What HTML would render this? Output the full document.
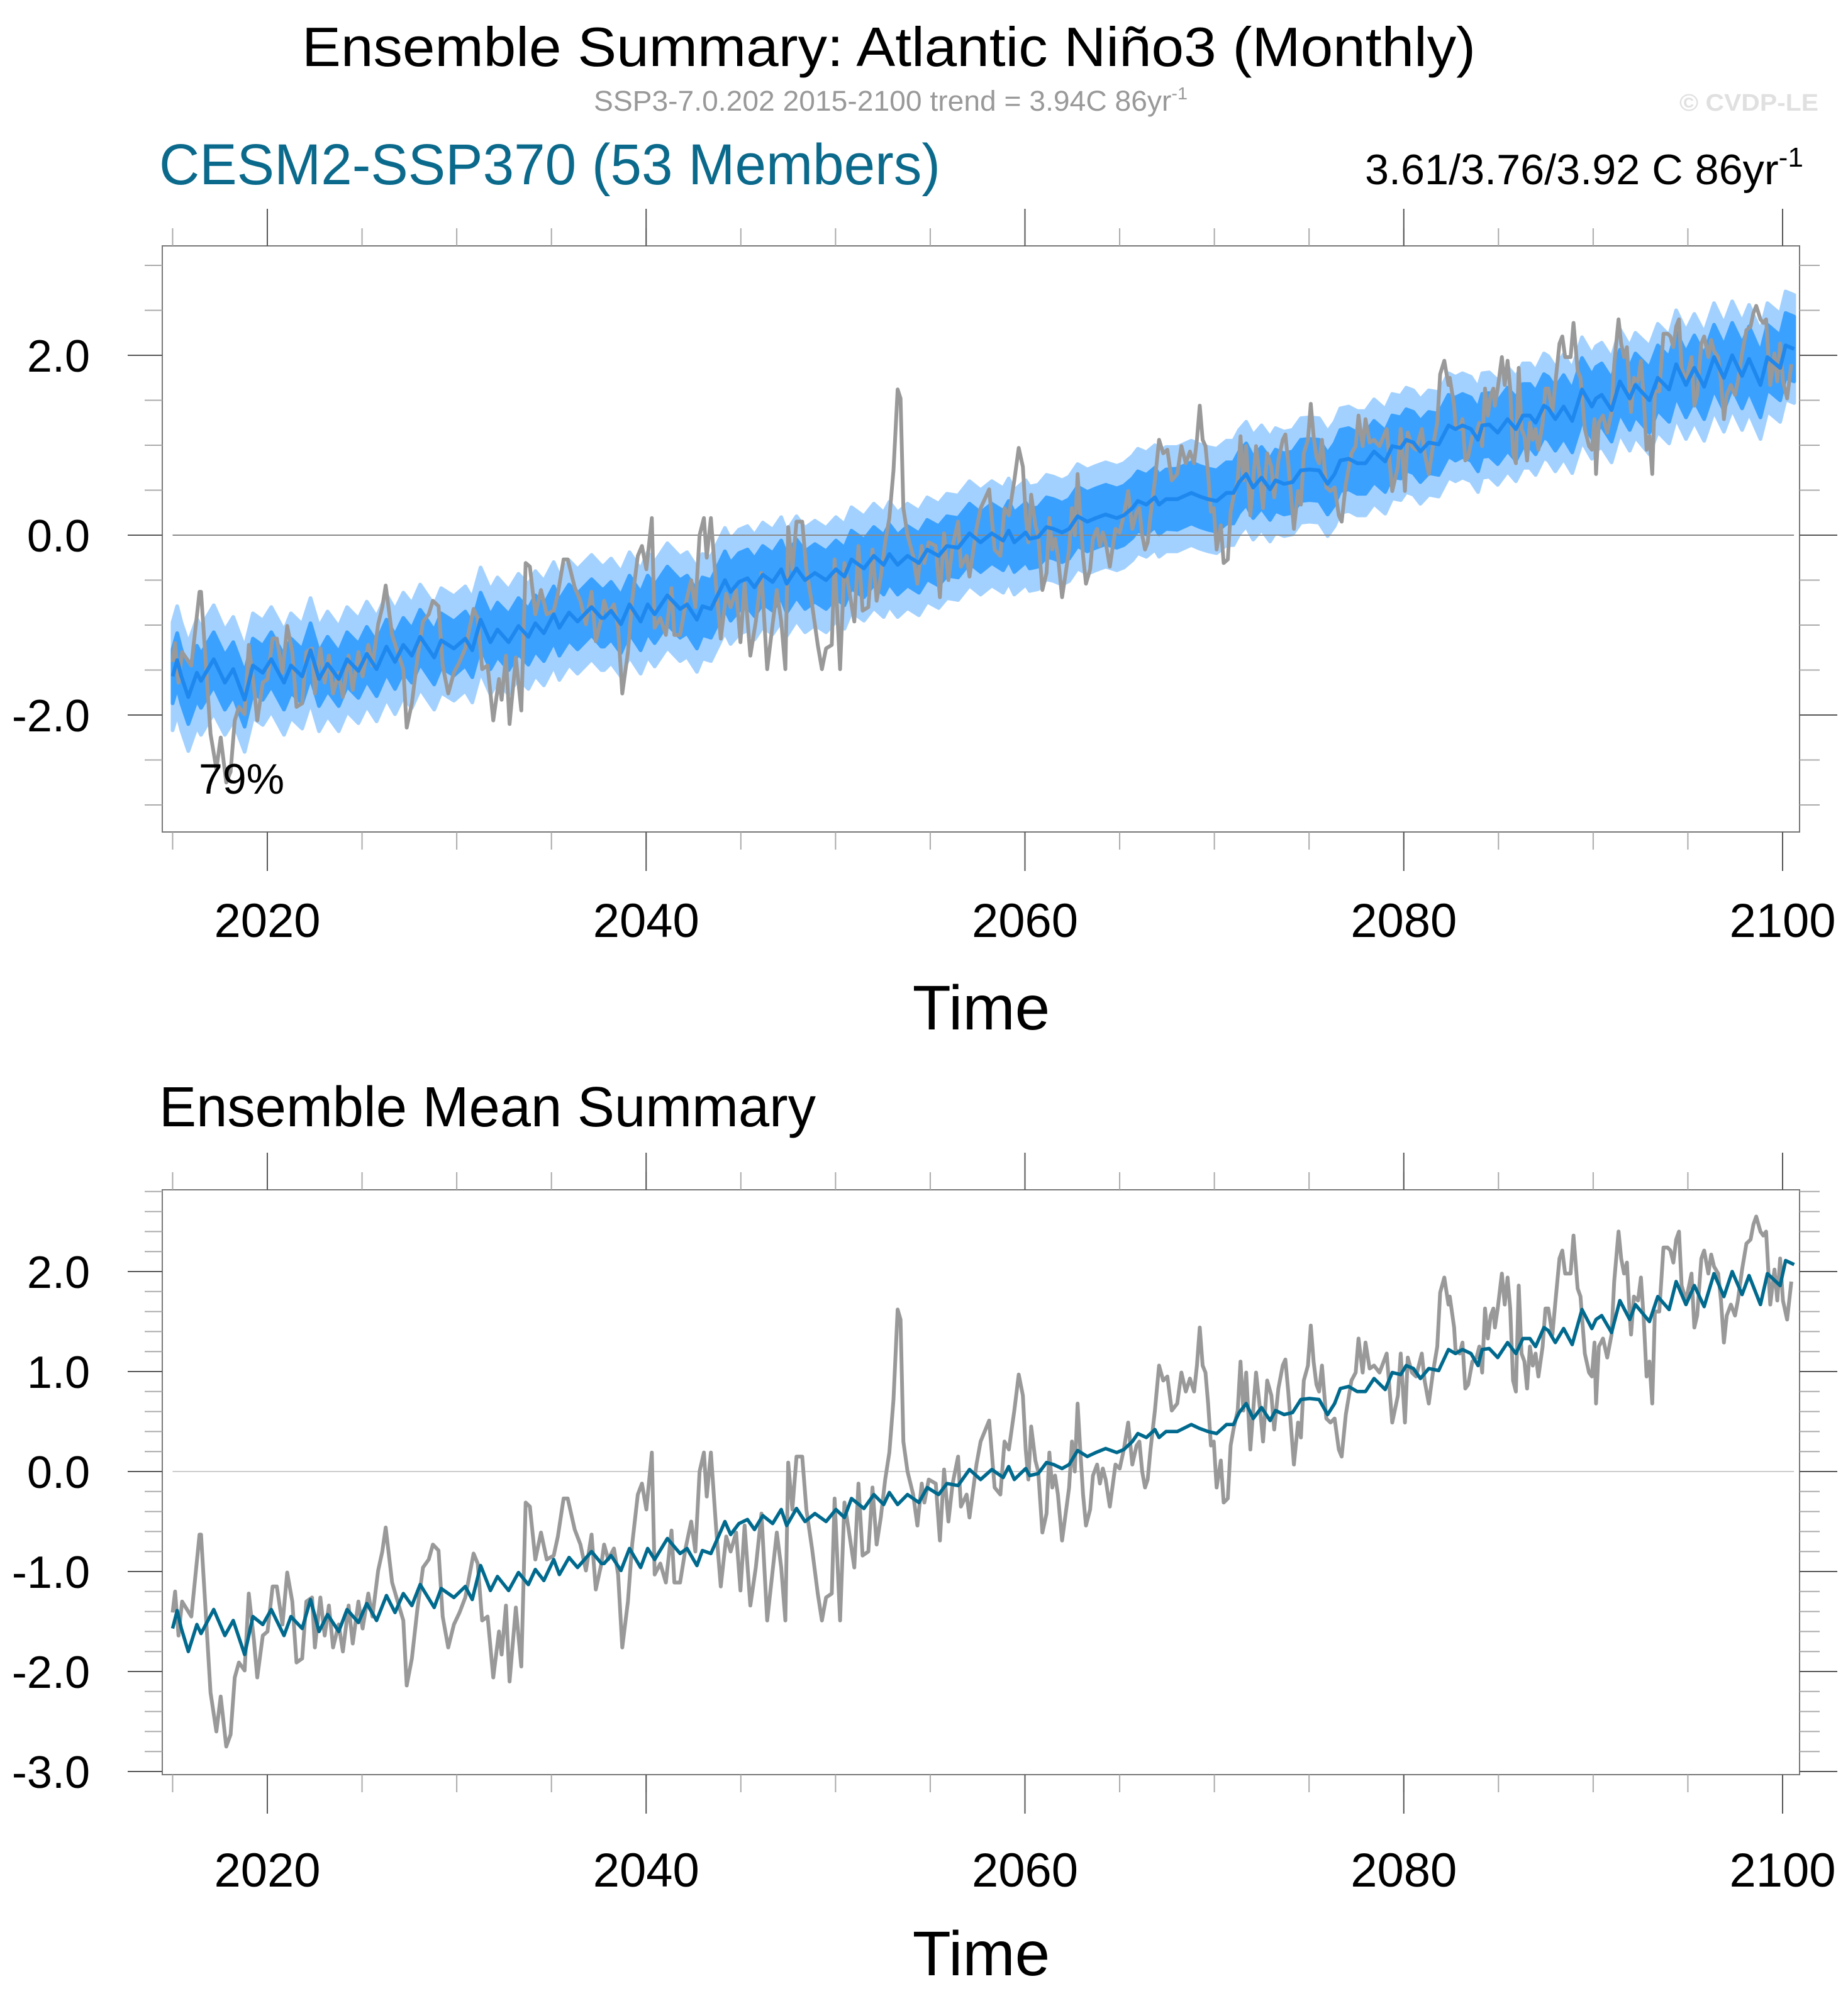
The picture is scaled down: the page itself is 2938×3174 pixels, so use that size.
<!DOCTYPE html>
<html><head><meta charset="utf-8"><title>Ensemble Summary: Atlantic Niño3 (Monthly)</title>
<style>html,body{margin:0;padding:0;background:#fff}svg{display:block}text{font-family:"Liberation Sans",Arial,sans-serif}</style>
</head><body>
<svg id="fig" width="2938" height="3174" viewBox="0 0 2938 3174" xmlns="http://www.w3.org/2000/svg">
<rect x="0" y="0" width="2938" height="3174" fill="#fff"/>
<text x="480" y="105" font-size="88" textLength="1866" lengthAdjust="spacingAndGlyphs">Ensemble Summary: Atlantic Niño3 (Monthly)</text>
<text x="944" y="176" font-size="45" fill="#999" textLength="944" lengthAdjust="spacingAndGlyphs">SSP3-7.0.202 2015-2100 trend = 3.94C 86yr<tspan dy="-18" font-size="28">-1</tspan></text>
<text x="2670" y="176" font-size="38" font-weight="bold" fill="#e0e0e0" textLength="221" lengthAdjust="spacingAndGlyphs">© CVDP-LE</text>
<text x="253" y="293" font-size="92" fill="#0b6a8c" textLength="1242" lengthAdjust="spacingAndGlyphs">CESM2-SSP370 (53 Members)</text>
<text x="2170" y="293" font-size="68" textLength="697" lengthAdjust="spacingAndGlyphs">3.61/3.76/3.92 C 86yr<tspan dy="-28" font-size="44">-1</tspan></text>
<text x="253" y="1791" font-size="90" textLength="1044" lengthAdjust="spacingAndGlyphs">Ensemble Mean Summary</text>
<g id="top"></g>
<g id="bot"></g>
</svg>
<script>
// ---- data ----
const obsTime = [2015.00,2015.13,2015.31,2015.50,2015.99,2016.42,2016.50,2017.00,2017.31,2017.54,2017.83,2018.06,2018.28,2018.50,2018.80,2019.02,2019.29,2019.47,2019.76,2020.01,2020.28,2020.50,2020.80,2021.05,2021.32,2021.54,2021.84,2022.06,2022.36,2022.51,2022.80,2023.03,2023.25,2023.47,2023.77,2023.99,2024.29,2024.51,2024.81,2025.03,2025.33,2025.55,2025.85,2026.07,2026.25,2026.59,2026.88,2027.18,2027.36,2027.63,2027.92,2028.22,2028.52,2028.74,2029.04,2029.26,2029.55,2029.85,2030.15,2030.45,2030.89,2031.11,2031.34,2031.63,2031.93,2032.23,2032.37,2032.60,2032.79,2033.12,2033.41,2033.64,2033.86,2034.15,2034.45,2034.75,2035.12,2035.34,2035.64,2035.86,2036.23,2036.53,2036.82,2037.12,2037.34,2037.64,
2037.78,2038.00,2038.30,2038.52,2038.74,2039.04,2039.26,2039.56,2039.78,2040.01,2040.30,2040.45,2040.75,2041.04,2041.34,2041.49,2041.79,2042.08,2042.38,2042.60,2042.82,2043.05,2043.20,2043.42,2043.71,2043.94,2044.23,2044.46,2044.75,2044.98,2045.20,2045.50,2045.79,2046.09,2046.39,2046.61,2046.90,2047.13,2047.35,2047.50,2047.72,2047.94,2048.24,2048.46,2048.76,2049.06,2049.28,2049.50,2049.80,2049.95,2050.24,2050.47,2050.69,2050.99,2051.21,2051.43,2051.73,2051.95,2052.17,2052.39,2052.62,2052.84,2053.06,2053.28,2053.43,2053.58,2053.80,2054.10,2054.32,2054.55,2054.69,2054.92,2055.29,2055.51,2055.73,2055.96,2056.18,2056.47,2056.62,2056.92,2057.07,2057.44,2057.66,2058.11,2058.40,2058.70,2058.92,2059.15,2059.44,2059.67,2059.89,2060.04,
2060.18,2060.33,2060.55,2060.70,2060.92,2061.14,2061.29,2061.44,2061.59,2061.74,2061.96,2062.18,2062.33,2062.48,2062.63,2062.78,2062.92,2063.07,2063.22,2063.44,2063.59,2063.81,2063.96,2064.11,2064.26,2064.48,2064.78,2065.00,2065.22,2065.45,2065.67,2065.89,2066.04,2066.19,2066.34,2066.48,2066.63,2066.86,2067.08,2067.30,2067.52,2067.75,2068.04,2068.26,2068.49,2068.71,2068.93,2069.08,2069.23,2069.38,2069.53,2069.67,2069.82,2069.97,2070.12,2070.34,2070.49,2070.71,2070.86,2071.01,2071.23,2071.38,2071.53,2071.68,2071.90,2072.20,2072.42,2072.57,2072.79,2073.01,2073.16,2073.38,2073.61,2073.75,2073.90,2074.20,2074.42,2074.57,2074.72,2074.94,2075.09,2075.24,2075.39,2075.53,2075.68,2075.91,2076.13,2076.35,2076.57,2076.72,2076.94,2077.24,2077.46,2077.61,2077.83,2077.98,2078.20,2078.43,2078.72,2079.10,2079.39,2079.69,2079.84,2080.06,2080.21,2080.43,2080.65,2080.95,2081.10,2081.32,2081.54,2081.77,2081.92,2082.14,2082.36,
2082.43,2082.66,2082.73,2082.95,2083.10,2083.25,2083.40,2083.62,2083.84,2083.99,2084.14,2084.29,2084.44,2084.59,2084.73,2084.81,2084.96,2085.18,2085.33,2085.48,2085.62,2085.77,2085.92,2086.07,2086.22,2086.37,2086.51,2086.66,2086.81,2086.96,2087.11,2087.33,2087.48,2087.63,2087.85,2088.00,2088.22,2088.37,2088.52,2088.67,2088.81,2088.96,2089.18,2089.33,2089.56,2089.78,2089.93,2090.07,2090.15,2090.30,2090.52,2090.74,2090.97,2091.11,2091.34,2091.48,2091.63,2091.78,2091.93,2092.00,2092.15,2092.37,2092.52,2092.67,2092.82,2092.97,2093.12,2093.26,2093.49,2093.71,2093.93,2094.08,2094.23,2094.38,2094.53,2094.67,2094.90,2095.19,2095.34,2095.49,2095.71,2095.86,2096.08,2096.23,2096.38,2096.60,2096.75,2096.90,2097.05,2097.27,2097.49,2097.64,2097.86,2098.09,2098.31,2098.46,2098.61,2098.83,2098.98,2099.13,2099.35,2099.57,2099.72,2099.87,2100.02,2100.24,2100.46];
const obsValue = [-1.41,-1.20,-1.64,-1.30,-1.45,-0.63,-0.63,-2.21,-2.60,-2.25,-2.75,-2.63,-2.06,-1.91,-1.99,-1.22,-1.68,-2.06,-1.64,-1.60,-1.15,-1.15,-1.53,-1.01,-1.30,-1.91,-1.87,-1.30,-1.26,-1.76,-1.26,-1.64,-1.34,-1.76,-1.53,-1.80,-1.34,-1.72,-1.30,-1.57,-1.22,-1.45,-0.99,-0.80,-0.56,-1.11,-1.30,-1.49,-2.14,-1.87,-1.38,-0.96,-0.88,-0.73,-0.79,-1.45,-1.76,-1.53,-1.41,-1.26,-0.82,-0.92,-1.49,-1.45,-2.06,-1.60,-1.83,-1.34,-2.10,-1.36,-1.95,-0.31,-0.35,-0.88,-0.61,-0.88,-0.84,-0.65,-0.27,-0.27,-0.58,-0.73,-0.99,-0.63,-1.18,-0.92,
-0.73,-0.88,-0.77,-1.03,-1.76,-1.30,-0.73,-0.23,-0.12,-0.38,0.19,-1.03,-0.92,-1.11,-0.59,-1.11,-1.11,-0.77,-0.50,-0.80,0.00,0.19,-0.25,0.19,-0.61,-1.15,-0.65,-0.80,-0.61,-1.19,-0.54,-1.34,-0.96,-0.42,-1.49,-1.11,-0.61,-0.96,-1.49,0.09,-0.38,0.15,0.15,-0.38,-0.77,-1.22,-1.49,-1.26,-1.22,-0.27,-1.49,-0.31,-0.58,-0.96,-0.12,-0.84,-0.80,-0.16,-0.73,-0.46,-0.08,0.19,0.72,1.62,1.52,0.30,0.00,-0.23,-0.54,-0.12,-0.31,-0.08,-0.12,-0.69,0.02,-0.50,-0.12,0.15,-0.35,-0.23,-0.46,0.07,0.30,0.51,-0.16,-0.23,0.30,0.22,0.61,0.97,0.76,0.22,
-0.08,0.45,0.11,0.00,-0.61,-0.42,0.19,-0.16,-0.04,-0.23,-0.69,-0.38,-0.16,0.30,0.00,0.68,0.22,-0.23,-0.54,-0.38,-0.04,0.07,-0.12,0.03,-0.08,-0.35,0.07,0.03,0.22,0.49,0.07,0.26,0.30,0.00,-0.16,-0.08,0.22,0.61,1.06,0.91,0.95,0.61,0.68,0.99,0.80,0.93,0.80,1.06,1.44,1.06,0.99,0.68,0.26,0.30,-0.16,0.11,-0.31,-0.27,0.26,0.42,0.61,1.10,0.61,0.99,0.22,0.99,0.61,0.30,0.91,0.76,0.42,0.83,1.06,1.12,0.80,0.07,0.49,0.34,0.91,1.06,1.46,1.10,0.87,0.80,1.06,0.53,0.49,0.53,0.22,0.15,0.57,0.91,0.99,1.33,0.99,1.29,1.03,1.06,0.99,1.18,0.49,0.76,1.18,0.49,1.14,0.99,0.95,1.18,0.91,0.68,0.99,1.25,1.79,1.94,1.67,
1.75,1.44,1.22,1.18,1.29,0.83,0.87,1.10,1.14,1.25,0.99,1.63,1.33,1.56,1.63,1.44,1.63,1.98,1.67,1.94,1.63,0.91,0.80,1.86,1.18,1.10,0.83,1.25,1.06,1.18,0.95,1.25,1.63,1.63,1.37,1.69,2.13,2.21,1.98,1.98,1.98,2.36,1.83,1.75,1.18,0.99,0.95,1.29,0.68,1.25,1.33,1.14,1.37,1.90,2.40,2.13,1.98,2.09,1.56,1.37,1.75,1.71,1.94,1.52,0.95,1.10,0.68,1.60,1.60,2.24,2.24,2.21,2.09,2.32,2.40,1.86,1.71,1.98,1.44,1.56,2.13,2.21,1.98,2.17,2.05,1.98,1.71,1.29,1.56,1.67,1.56,1.71,2.02,2.28,2.32,2.47,2.55,2.40,2.36,2.40,1.67,2.02,1.71,2.13,1.71,1.52,1.90];
const ensTime = [2015.00,2015.24,2015.46,2015.83,2016.28,2016.50,2017.17,2017.76,2018.20,2018.80,2019.24,2019.76,2020.21,2020.88,2021.25,2021.84,2022.28,2022.73,2023.18,2023.77,2024.21,2024.81,2025.25,2025.77,2026.29,2026.74,2027.18,2027.63,2028.07,2028.81,2029.18,2029.85,2030.45,2030.82,2031.26,2031.78,2032.15,2032.74,2033.26,2033.78,2034.15,2034.60,2035.12,2035.42,2035.93,2036.38,2037.12,2037.64,2037.78,2038.15,2038.67,2039.12,2039.71,2040.08,2040.45,2041.12,2041.79,2042.16,2042.68,2042.97,2043.42,2043.86,2044.16,2044.46,2044.90,2045.35,2045.72,2046.16,2046.68,2047.13,2047.42,2047.94,2048.39,2048.91,2049.50,2050.02,2050.47,2050.84,2051.50,2052.02,2052.54,2052.84,2053.28,2053.80,2054.40,2054.84,2055.44,2055.88,2056.47,2057.07,2057.66,2058.25,2058.85,2059.14,2059.44,2060.04,2060.25,2060.70,2061.14,2061.51,2061.96,2062.33,2062.78,2063.29,2063.74,2064.26,2064.85,2065.22,2065.67,2065.96,2066.41,2066.86,2067.08,2067.45,2068.04,2068.78,2069.23,2069.67,2070.12,2070.64,2071.01,2071.31,2071.68,2072.05,2072.49,2072.94,2073.23,2073.68,2074.13,2074.57,2075.02,2075.53,2075.98,2076.35,2076.65,2077.09,2077.54,2077.98,2078.43,2079.02,2079.39,2079.84,2080.13,2080.51,2080.88,2081.32,2081.84,2082.36,2082.73,2083.10,2083.55,2083.92,2084.14,2084.51,2084.96,2085.48,2085.92,2086.29,2086.66,2086.96,2087.40,2087.63,2088.00,2088.44,2088.89,2089.41,2089.93,2090.15,2090.45,2090.97,2091.41,2091.93,2092.23,2092.97,2093.41,2094.01,2094.38,2094.90,2095.34,2095.86,2096.38,2096.90,2097.34,2097.86,2098.23,2098.83,2099.20,2099.87,2100.16,2100.61];
const ensMean = [-1.57,-1.39,-1.57,-1.80,-1.53,-1.62,-1.38,-1.64,-1.49,-1.83,-1.45,-1.53,-1.38,-1.64,-1.45,-1.57,-1.28,-1.60,-1.43,-1.60,-1.38,-1.51,-1.32,-1.49,-1.24,-1.41,-1.22,-1.34,-1.13,-1.36,-1.17,-1.26,-1.15,-1.28,-0.94,-1.19,-1.05,-1.19,-1.01,-1.13,-0.98,-1.09,-0.88,-1.03,-0.86,-0.96,-0.80,-0.92,-0.92,-0.84,-0.99,-0.77,-0.96,-0.77,-0.88,-0.67,-0.82,-0.77,-0.94,-0.79,-0.82,-0.63,-0.50,-0.63,-0.52,-0.48,-0.58,-0.44,-0.52,-0.38,-0.54,-0.37,-0.50,-0.42,-0.50,-0.38,-0.46,-0.27,-0.37,-0.23,-0.33,-0.21,-0.33,-0.23,-0.31,-0.16,-0.23,-0.12,-0.14,0.02,-0.08,0.02,-0.06,0.05,-0.08,0.03,-0.04,-0.02,0.09,0.07,0.03,0.07,0.21,0.15,0.19,0.23,0.19,0.22,0.30,0.38,0.34,0.42,0.34,0.40,0.40,0.47,0.43,0.40,0.38,0.47,0.47,0.59,0.68,0.53,0.64,0.51,0.61,0.57,0.59,0.72,0.73,0.72,0.57,0.68,0.83,0.85,0.80,0.80,0.93,0.82,0.99,0.97,1.06,1.03,0.93,1.03,1.01,1.22,1.18,1.22,1.18,1.06,1.22,1.23,1.14,1.29,1.18,1.33,1.33,1.25,1.44,1.41,1.29,1.43,1.27,1.62,1.43,1.52,1.56,1.39,1.71,1.52,1.67,1.50,1.75,1.62,1.90,1.67,1.86,1.65,1.98,1.75,2.00,1.77,1.96,1.67,1.98,1.86,2.11,2.07];
// ensemble spread (half-widths), one value per 5-year block starting 2015
const spreadYears = [2015,2020,2025,2030,2035,2040,2045,2050,2055,2060,2065,2070,2075,2080,2085,2090,2095,2100];
const innerHalf = [0.30,0.30,0.30,0.30,0.31,0.32,0.32,0.32,0.33,0.33,0.33,0.34,0.34,0.34,0.35,0.35,0.36,0.36];
const outerHalf = [0.60,0.58,0.58,0.58,0.58,0.58,0.58,0.58,0.58,0.58,0.58,0.58,0.58,0.58,0.58,0.58,0.60,0.60];
const xTickYears = [2020,2040,2060,2080,2100];
const xTickLabels = ["2020","2040","2060","2080","2100"];
const topYTicks = [2,0,-2];
const topYLabels = ["2.0","0.0","-2.0"];
const botYTicks = [2,1,0,-1,-2,-3];
const botYLabels = ["2.0","1.0","0.0","-1.0","-2.0","-3.0"];

// ---- layout ----
const NS = "http://www.w3.org/2000/svg";
const L = 258, R = 2861;
const xS = t => 425 + (t - 2020) * 30.1125;
const panels = {
  top: {g: document.getElementById('top'), T: 391, B: 1323, y: v => 851 - 143 * v, vmin: -3.3, vmax: 3.2, minorStep: 0.5, labBase: 1490, timeBase: 1637},
  bot: {g: document.getElementById('bot'), T: 1892, B: 2822, y: v => 2340 - 159 * v, vmin: -3.0, vmax: 2.8, minorStep: 0.2, labBase: 3000, timeBase: 3141}
};
function el(tag, attrs, parent) {
  const e = document.createElementNS(NS, tag);
  for (const k in attrs) e.setAttribute(k, attrs[k]);
  parent.appendChild(e);
  return e;
}
function spreadAt(arr, t) {
  let i = Math.round((t - 2015) / 5);
  i = Math.max(0, Math.min(arr.length - 1, i));
  return arr[i];
}
function lineD(ts, vs, y) {
  return ts.map((t, i) => (i ? 'L' : 'M') + xS(t).toFixed(1) + ' ' + y(vs[i]).toFixed(1)).join(' ');
}
function drawAxes(p, key, yTicks, yLabels) {
  const g = p.g;
  const fr = el('rect', {x: L, y: p.T, width: R - L, height: p.B - p.T, fill: 'none', stroke: '#777', 'stroke-width': 2}, g);
  
  
  for (let v = Math.ceil(p.vmin / p.minorStep) * p.minorStep; v <= p.vmax + 1e-9; v += p.minorStep) {
    const yy = p.y(v);
    const mt = el('path', {d: `M${L - 28} ${yy}H${L}M${R} ${yy}H${R + 32}`, stroke: '#aaa', 'stroke-width': 2}, g);
    
    
  }
  yTicks.forEach((v, i) => {
    const yy = p.y(v);
    const t = el('path', {d: `M${L - 55} ${yy}H${L}M${R} ${yy}H${R + 60}`, stroke: '#555', 'stroke-width': 2}, g);
    
    
    const tx = el('text', {x: 143, y: yy + 26, 'font-size': 72, 'text-anchor': 'end'}, g);
    tx.textContent = yLabels[i];
    
    
  });
  for (let yr = 2015; yr <= 2100; yr += 5) {
    const xx = xS(yr);
    const mt = el('path', {d: `M${xx} ${p.T - 28}V${p.T}M${xx} ${p.B}V${p.B + 28}`, stroke: '#aaa', 'stroke-width': 2}, g);
    
    
  }
  xTickYears.forEach((yr, i) => {
    const xx = xS(yr);
    const t = el('path', {d: `M${xx} ${p.T - 59}V${p.T}M${xx} ${p.B}V${p.B + 62}`, stroke: '#555', 'stroke-width': 2}, g);
    
    
    const tx = el('text', {x: xx, y: p.labBase, 'font-size': 76, 'text-anchor': 'middle'}, g);
    tx.textContent = xTickLabels[i];
    
    
  });
  const tt = el('text', {x: 1560, y: p.timeBase, 'font-size': 100, 'text-anchor': 'middle'}, g);
  tt.textContent = 'Time';
  
  
  const z = el('path', {d: `M${xS(2015)} ${p.y(0)}H${xS(2100.6)}`, stroke: key === 'top' ? '#888' : '#ccc', 'stroke-width': 2}, g);
  
  
}

// ---- top panel ----
(function () {
  const p = panels.top;
  const yf = p.y;
  function band(half, color, name) {
    const up = ensTime.map((t, i) => xS(t).toFixed(1) + ' ' + yf(ensMean[i] + spreadAt(half, t)).toFixed(1));
    const dn = ensTime.map((t, i) => xS(t).toFixed(1) + ' ' + yf(ensMean[i] - spreadAt(half, t)).toFixed(1)).reverse();
    const b = el('path', {d: 'M' + up.join(' L') + ' L' + dn.join(' L') + ' Z', fill: color, stroke: color, 'stroke-width': 6, 'stroke-linejoin': 'round'}, p.g);
    
    
  }
  band(outerHalf, '#a3d1ff', 'ensemble-outer-spread-band');
  band(innerHalf, '#3ba1ff', 'ensemble-inner-spread-band');
  drawAxes(p, 'top', topYTicks, topYLabels);
  const o = el('path', {d: lineD(obsTime, obsValue, yf), fill: 'none', stroke: '#999', 'stroke-width': 6, 'stroke-linejoin': 'round'}, p.g);
  
  
  const m = el('path', {d: lineD(ensTime, ensMean, yf), fill: 'none', stroke: '#1e88ee', 'stroke-width': 6, 'stroke-linejoin': 'round'}, p.g);
  
  
  const pc = el('text', {x: 316, y: 1262, 'font-size': 68}, p.g);
  pc.textContent = '79%';
  
  
})();

// ---- bottom panel ----
(function () {
  const p = panels.bot;
  drawAxes(p, 'bot', botYTicks, botYLabels);
  const o = el('path', {d: lineD(obsTime, obsValue, p.y), fill: 'none', stroke: '#999', 'stroke-width': 6, 'stroke-linejoin': 'round'}, p.g);
  
  
  const m = el('path', {d: lineD(ensTime, ensMean, p.y), fill: 'none', stroke: '#006a8e', 'stroke-width': 5.5, 'stroke-linejoin': 'round'}, p.g);
  
  
})();
</script>
</body></html>
